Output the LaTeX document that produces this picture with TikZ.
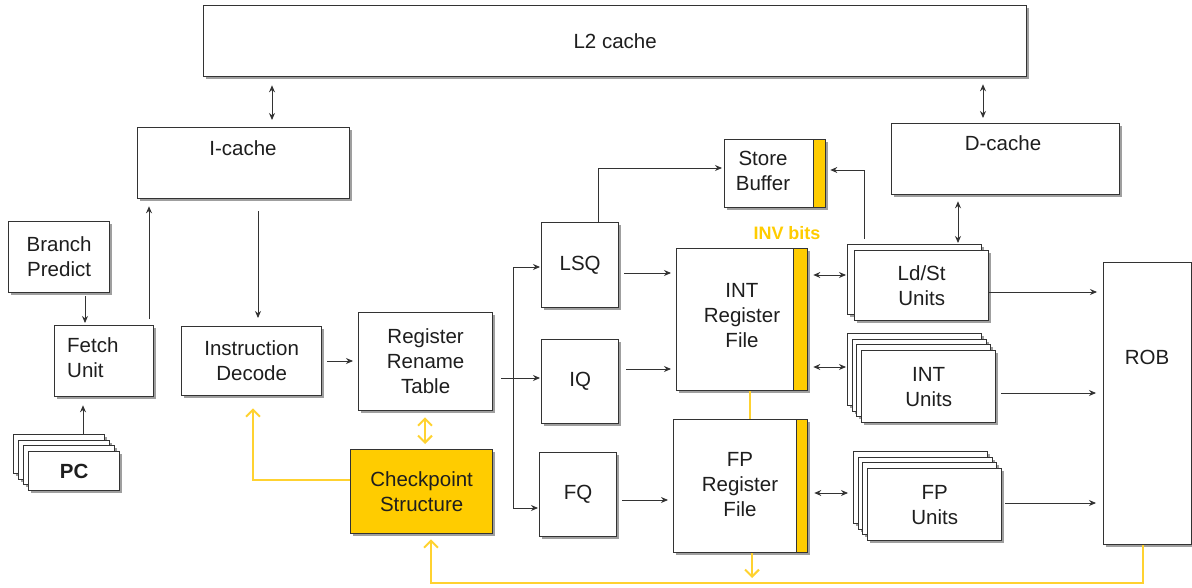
\documentclass[tikz,border=0pt]{standalone}
\usepackage{fontspec}
\setmainfont{Liberation Sans}
\usetikzlibrary{shadows,arrows.meta,calc}
\definecolor{gold}{HTML}{FFCC00}
\definecolor{ylw}{HTML}{FFD230}
\definecolor{lineg}{HTML}{333333}
\definecolor{txtg}{HTML}{1E1E1E}
\begin{document}
\begin{tikzpicture}[x=1pt,y=-1pt,
  box/.style={draw=lineg, line width=1.3pt, fill=white,
    drop shadow={shadow xshift=2.5pt, shadow yshift=-2.5pt, fill=gray!75, opacity=1},
    inner sep=0pt, anchor=north west, align=center, text=txtg,
    font=\fontsize{20.5}{25}\selectfont},
  bar/.style={draw=lineg, line width=1.3pt, fill=gold, inner sep=0pt, anchor=north west},
  txt/.style={inner sep=0pt, align=center, text=txtg, font=\fontsize{20.5}{25}\selectfont},
  arr/.style={draw=lineg, line width=0.9pt, -{Stealth[length=7pt,width=6pt]}},
  darr/.style={draw=lineg, line width=0.9pt, {Stealth[length=7pt,width=6pt]}-{Stealth[length=7pt,width=6pt]}},
  yline/.style={draw=ylw, line width=2pt},
  yarr/.style={draw=ylw, line width=2pt, -{Straight Barb[length=7pt,width=14pt,line width=2pt]}},
  ydarr/.style={draw=ylw, line width=2pt, {Straight Barb[length=7pt,width=14pt,line width=2pt]}-{Straight Barb[length=7pt,width=14pt,line width=2pt]}},
]
\useasboundingbox (0,0) rectangle (1192,588);

% caches
\node[box, minimum width=823pt, minimum height=71pt] (l2) at (203,5) {L2 cache};
\node[box, minimum width=212pt, minimum height=71pt] (icache) at (137,127) {};
\node[txt] (icachetxt) at (243,148) {I-cache};
\node[box, minimum width=228pt, minimum height=71pt] (dcache) at (891,123) {};
\node[txt] (dcachetxt) at (1003,143) {D-cache};

% front end
\node[box, minimum width=101pt, minimum height=71pt] (bp) at (8,221) {Branch\\Predict};
\node[box, minimum width=99pt, minimum height=71pt] (fetch) at (54,325) {};
\node[txt, align=left, anchor=west] (fetchtxt) at (67,358) {Fetch\\Unit};
\node[box, minimum width=91pt, minimum height=39pt] (pc1) at (13,434) {};
\node[box, minimum width=91pt, minimum height=39pt] (pc2) at (18,440) {};
\node[box, minimum width=91pt, minimum height=39pt] (pc3) at (23,445) {};
\node[box, minimum width=91pt, minimum height=39pt, font=\fontsize{20.5}{24}\bfseries] (pc4) at (28,451) {PC};
\node[box, minimum width=140pt, minimum height=69pt] (decode) at (181,326) {Instruction\\Decode};
\node[box, minimum width=134pt, minimum height=98pt] (rrt) at (358,312) {Register\\Rename\\Table};
\node[box, minimum width=142pt, minimum height=84pt, fill=gold] (chk) at (350,449) {Checkpoint\\Structure};

% queues
\node[box, minimum width=77pt, minimum height=85pt] (lsq) at (541,222) {LSQ};
\node[box, minimum width=77pt, minimum height=84pt] (iq) at (541,339) {IQ};
\node[box, minimum width=77pt, minimum height=84pt] (fq) at (539,452) {FQ};

% store buffer
\node[box, minimum width=101pt, minimum height=68pt] (sb) at (724,139) {};
\node[bar, minimum width=12pt, minimum height=68pt] (sbbar) at (813,139) {};
\node[txt] (sbtxt) at (763,171) {Store\\Buffer};

% register files
\node[box, minimum width=131pt, minimum height=142pt] (intrf) at (676,248) {};
\node[bar, minimum width=14pt, minimum height=142pt] (intbar) at (793,248) {};
\node[txt] (intrftxt) at (742,316) {INT\\Register\\File};
\node[box, minimum width=134pt, minimum height=133pt] (fprf) at (673,419) {};
\node[bar, minimum width=11pt, minimum height=133pt] (fpbar) at (796,419) {};
\node[txt] (fprftxt) at (740,485) {FP\\Register\\File};
\node[inner sep=0pt, text=gold, font=\fontsize{18}{20}\bfseries] (inv) at (787,233) {INV bits};

% functional units
\node[box, minimum width=134pt, minimum height=70pt] (ldst1) at (847,244) {};
\node[box, minimum width=134pt, minimum height=70pt] (ldst2) at (854,250) {Ld/St\\Units};
\node[box, minimum width=134pt, minimum height=72pt] (intu1) at (847,333) {};
\node[box, minimum width=134pt, minimum height=72pt] (intu2) at (852,339) {};
\node[box, minimum width=134pt, minimum height=72pt] (intu3) at (856,344) {};
\node[box, minimum width=134pt, minimum height=72pt] (intu4) at (861,350) {INT\\Units};
\node[box, minimum width=134pt, minimum height=72pt] (fpu1) at (853,451) {};
\node[box, minimum width=134pt, minimum height=72pt] (fpu2) at (858,457) {};
\node[box, minimum width=134pt, minimum height=72pt] (fpu3) at (862,462) {};
\node[box, minimum width=134pt, minimum height=72pt] (fpu4) at (867,468) {FP\\Units};
\node[box, minimum width=88pt, minimum height=282pt] (rob) at (1103,262) {};
\node[txt] (robtxt) at (1147,357) {ROB};

% black connectors
\draw[darr, shorten <=8pt, shorten >=7pt] (l2.south -| 272,0) -- (icache.north -| 272,0);
\draw[darr, shorten <=7pt, shorten >=5pt] (l2.south -| 983,0) -- (dcache.north -| 983,0);
\draw[darr, shorten <=6pt, shorten >=1pt] (dcache.south -| 958,0) -- (ldst1.north -| 958,0);
\draw[arr, shorten <=3pt, shorten >=2pt] (bp.south -| 85,0) -- (fetch.north -| 85,0);
\draw[arr, shorten >=8pt] (pc1.north -| 83,0) -- (fetch.south -| 83,0);
\draw[arr, shorten <=6pt, shorten >=7pt] (fetch.north -| 149,0) -- (icache.south -| 149,0);
\draw[arr, shorten <=12pt, shorten >=8pt] (icache.south -| 258,0) -- (decode.north -| 258,0);
\draw[arr, shorten <=5pt, shorten >=5pt] (decode.east |- 0,361) -- (rrt.west |- 0,361);
\draw[arr, shorten <=8pt, shorten >=1pt] (rrt.east |- 0,378) -- (iq.west |- 0,378);
\coordinate (bus) at (513,378);
\draw[arr, shorten >=1pt] (bus) |- (lsq.west |- 0,267);
\draw[arr, shorten >=1pt] (bus) |- (fq.west |- 0,508);
\draw[arr, shorten <=5pt, shorten >=5pt] (lsq.east |- 0,273) -- (intrf.west |- 0,273);
\draw[arr, shorten <=7pt, shorten >=5pt] (iq.east |- 0,369) -- (intrf.west |- 0,369);
\draw[arr, shorten <=5pt, shorten >=5pt] (fq.east |- 0,500) -- (fprf.west |- 0,500);
\draw[arr, shorten >=2pt] (lsq.north -| 598,0) |- (sb.west |- 0,168);
\draw[arr, shorten <=5pt, shorten >=4pt] (ldst1.north -| 864,0) |- (sb.east |- 0,170);
\draw[darr, shorten <=5pt, shorten >=1pt] (intrf.east |- 0,275) -- (ldst1.west |- 0,275);
\draw[darr, shorten <=5pt, shorten >=1pt] (intrf.east |- 0,367) -- (intu1.west |- 0,367);
\draw[darr, shorten <=6pt, shorten >=5pt] (fprf.east |- 0,493) -- (fpu1.west |- 0,493);
\draw[arr, shorten >=6pt] (ldst2.east |- 0,292) -- (rob.west |- 0,292);
\draw[arr, shorten <=5pt, shorten >=7pt] (intu4.east |- 0,393) -- (rob.west |- 0,393);
\draw[arr, shorten <=3pt, shorten >=7pt] (fpu4.east |- 0,503) -- (rob.west |- 0,503);

% yellow connectors
\draw[ydarr, shorten <=6pt, shorten >=5pt] (rrt.south -| 425,0) -- (chk.north -| 425,0);
\draw[yarr, shorten >=12pt] (chk.west |- 0,480) -| (decode.south -| 253,0);
\draw[yline] (intrf.south -| 750,0) -- (fprf.north -| 750,0);
\coordinate (ybot) at (752,583);
\draw[yarr, shorten >=5pt] (fprf.south -| 752,0) -- (ybot);
\draw[yarr, shorten >=5pt] (rob.south -| 1143,0) |- (ybot -| 431,0) -- (chk.south -| 431,0);
\end{tikzpicture}
\end{document}
